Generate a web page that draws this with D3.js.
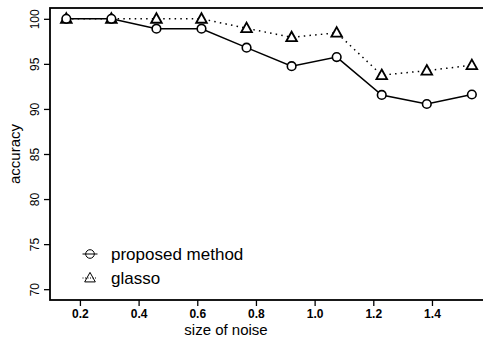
<!DOCTYPE html>
<html>
<head>
<meta charset="utf-8">
<script src="https://cdn.jsdelivr.net/npm/d3@7"></script>
<style>
  body { margin: 0; background: #fff; }
  svg { display: block; font-family: 'Liberation Sans', Arial, sans-serif; }
</style>
</head>
<body>
<div id="chart"></div>
<script>
// data
const noise = [0.1536, 0.3072, 0.4608, 0.6144, 0.768, 0.9216, 1.0752, 1.2288, 1.3824, 1.536]
const proposed = [100, 100, 98.9, 98.9, 96.8, 94.75, 95.75, 91.55, 90.55, 91.6]
const glasso = [100, 100, 100, 100, 98.95, 97.95, 98.45, 93.75, 94.25, 94.85]
const xTicks = [0.2, 0.4, 0.6, 0.8, 1.0, 1.2, 1.4]
const yTicks = [70, 75, 80, 85, 90, 95, 100]
const legendLabels = ['proposed method', 'glasso']

const width = 483
const height = 341
const margin = { top: 8, right: -5, bottom: 41, left: 50 }

const svg = d3.select('#chart')
  .append('svg')
  .attr('width', width)
  .attr('height', height)

const x = d3.scaleLinear()
  .domain([0.098, 1.591])
  .range([margin.left, width - margin.right])

const y = d3.scaleLinear()
  .domain([68.8, 101.2])
  .range([height - margin.bottom, margin.top])

// plot box (right side falls off the picture)
svg.append('rect')
  .attr('x', margin.left)
  .attr('y', margin.top)
  .attr('width', width - margin.right - margin.left)
  .attr('height', height - margin.bottom - margin.top)
  .attr('fill', 'none')
  .attr('stroke', '#000')
  .attr('stroke-width', 1.8)

const xAxis = (g) => {
  g.attr('transform', `translate(0, ${height - margin.bottom})`)
    .call(d3.axisBottom(x).tickValues(xTicks).tickFormat(d3.format('.1f')).tickSizeOuter(0).tickSize(6).tickPadding(3))
    .call((g) => g.select('.domain').remove())
    .call((g) => g.selectAll('.tick>line').attr('stroke-width', 1.3))
    .call((g) => {
      g.selectAll('.tick>text')
        .style('font-family', "'Liberation Sans', Arial, sans-serif")
        .style('font-size', '12px')
        .style('font-weight', 'bold')
        .attr('fill', '#000')
    })
}

const yAxis = (g) => {
  g.attr('transform', `translate(${margin.left}, 0)`)
    .call(d3.axisLeft(y).tickValues(yTicks).tickSizeOuter(0).tickSize(6))
    .call((g) => g.select('.domain').remove())
    .call((g) => g.selectAll('.tick>line').attr('stroke-width', 1.3))
    .call((g) => {
      g.selectAll('.tick>text')
        .attr('x', null)
        .attr('dy', null)
        .attr('transform', 'translate(-15, 0) rotate(-90)')
        .attr('text-anchor', 'middle')
        .attr('dominant-baseline', 'central')
        .style('font-family', "'Liberation Sans', Arial, sans-serif")
        .style('font-size', '12px')
        .attr('fill', '#000')
    })
}

svg.append('g').call(xAxis)
svg.append('g').call(yAxis)

svg.append('text')
  .attr('x', 226)
  .attr('y', 335)
  .attr('text-anchor', 'middle')
  .style('font-size', '15px')
  .text('size of noise')

svg.append('text')
  .attr('transform', 'translate(20, 154) rotate(-90)')
  .attr('text-anchor', 'middle')
  .style('font-size', '15px')
  .text('accuracy')

const triangle = (cx, cy) => {
  const s = 5.6
  return `M${cx},${cy - s}L${cx + s * 0.95},${cy + s * 0.7}L${cx - s * 0.95},${cy + s * 0.7}Z`
}

const line = (vals) => d3.line()
  .x((d, i) => x(noise[i]))
  .y((d) => y(d))(vals)

// glasso, dotted
svg.append('path')
  .attr('d', line(glasso))
  .attr('fill', 'none')
  .attr('stroke', '#000')
  .attr('stroke-width', 1.5)
  .attr('stroke-dasharray', '1.5,4.2')

// proposed, solid
svg.append('path')
  .attr('d', line(proposed))
  .attr('fill', 'none')
  .attr('stroke', '#000')
  .attr('stroke-width', 1.5)

svg.selectAll('.tri')
  .data(glasso)
  .join('path')
  .attr('class', 'tri')
  .attr('d', (d, i) => triangle(x(noise[i]), y(d)))
  .attr('fill', '#fff')
  .attr('stroke', '#000')
  .attr('stroke-width', 1.8)

svg.selectAll('.circ')
  .data(proposed)
  .join('circle')
  .attr('class', 'circ')
  .attr('cx', (d, i) => x(noise[i]))
  .attr('cy', (d) => y(d))
  .attr('r', 4.3)
  .attr('fill', '#fff')
  .attr('stroke', '#000')
  .attr('stroke-width', 1.6)

// legend
const legend = svg.append('g').attr('transform', 'translate(90, 254)')

legend.append('line')
  .attr('x1', -7.5).attr('x2', 7.5)
  .attr('stroke', '#000').attr('stroke-width', 1)
legend.append('circle')
  .attr('r', 4.3).attr('fill', 'none')
  .attr('stroke', '#000').attr('stroke-width', 1)
legend.append('text')
  .attr('x', 21).attr('y', 0)
  .attr('dy', '0.35em')
  .style('font-size', '17px')
  .text(legendLabels[0])

legend.append('line')
  .attr('x1', -7.5).attr('x2', 7.5)
  .attr('y1', 24).attr('y2', 24)
  .attr('stroke', '#000').attr('stroke-width', 1)
  .attr('stroke-dasharray', '1,1.5')
legend.append('path')
  .attr('d', triangle(0, 24))
  .attr('fill', 'none')
  .attr('stroke', '#000').attr('stroke-width', 1)
legend.append('text')
  .attr('x', 21).attr('y', 24)
  .attr('dy', '0.35em')
  .style('font-size', '17px')
  .text(legendLabels[1])
</script>
</body>
</html>
